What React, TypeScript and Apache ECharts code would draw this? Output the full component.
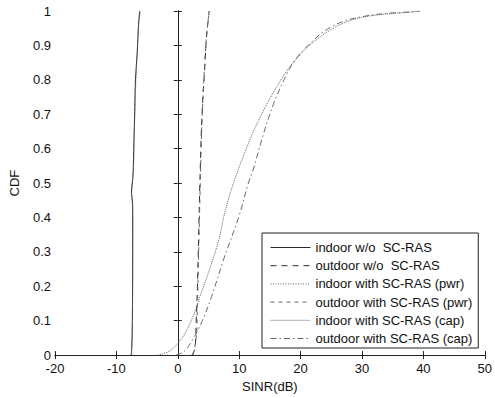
import React, { useEffect, useRef } from "react";
import * as echarts from "echarts";

const seriesNames = [
  "indoor w/o  SC-RAS",
  "outdoor w/o  SC-RAS",
  "indoor with SC-RAS (pwr)",
  "outdoor with SC-RAS (pwr)",
  "indoor with SC-RAS (cap)",
  "outdoor with SC-RAS (cap)",
];

const xTicks = [-20, -10, 0, 10, 20, 30, 40, 50];
const yTicks = [0, 0.1, 0.2, 0.3, 0.4, 0.5, 0.6, 0.7, 0.8, 0.9, 1];

// [SINR(dB), CDF]
const indoorWo: [number, number][] = [
  [-7.6, 0], [-7.5, 0.02], [-7.4, 0.1], [-7.35, 0.3], [-7.35, 0.44], [-7.55, 0.47],
  [-7.3, 0.52], [-7.15, 0.62], [-7.0, 0.72], [-6.9, 0.8], [-6.6, 0.88], [-6.4, 0.96], [-6.2, 1.0],
];
const outdoorWo: [number, number][] = [
  [2.3, 0], [2.8, 0.02], [3.0, 0.1], [3.2, 0.2], [3.4, 0.35], [3.6, 0.5],
  [3.9, 0.68], [4.4, 0.84], [4.7, 0.93], [5.0, 0.98], [5.1, 1.0],
];
const indoorPwr: [number, number][] = [
  [-7.5, 0], [-7.4, 0.1], [-7.3, 0.4], [-7.5, 0.47], [-7.2, 0.55],
  [-7.0, 0.7], [-6.7, 0.85], [-6.4, 0.95], [-6.1, 1.0],
];
const outdoorPwr: [number, number][] = [
  [2.5, 0], [3.0, 0.05], [3.2, 0.15], [3.4, 0.3], [3.6, 0.45], [3.8, 0.6],
  [4.1, 0.75], [4.5, 0.88], [4.9, 0.97], [5.2, 1.0],
];
const indoorCap: [number, number][] = [
  [-3.2, 0], [-1.5, 0.01], [-0.4, 0.026], [1.2, 0.064], [2.8, 0.127], [3.6, 0.17],
  [5.0, 0.24], [6.6, 0.33], [7.6, 0.41], [8.7, 0.48], [10.5, 0.57], [13.1, 0.68],
  [16.8, 0.8], [20.0, 0.875], [23.2, 0.925], [26.4, 0.96], [29.6, 0.98], [33.3, 0.99],
  [38.0, 0.997], [39.0, 1.0],
];
const outdoorCap: [number, number][] = [
  [-0.3, 0], [0.8, 0.008], [1.6, 0.022], [2.6, 0.05], [4.0, 0.1], [5.5, 0.17],
  [7.5, 0.28], [9.9, 0.4], [11.5, 0.5], [12.3, 0.54], [13.9, 0.64], [15.6, 0.73],
  [17.3, 0.8], [19.0, 0.855], [21.5, 0.905], [24.0, 0.943], [27.0, 0.97], [30.5, 0.985],
  [34.0, 0.993], [38.5, 0.998], [39.5, 1.0],
];

const seriesData = [indoorWo, outdoorWo, indoorPwr, outdoorPwr, indoorCap, outdoorCap];
const seriesStyles: { color: string; type: any }[] = [
  { color: "#2a2a2a", type: "solid" },
  { color: "#2a2a2a", type: [6, 5] },
  { color: "#666666", type: [1, 1.5] },
  { color: "#666666", type: [4, 4] },
  { color: "#666666", type: [1, 1] },
  { color: "#6a6a6a", type: [6, 3, 1.5, 3] },
];

export default function App() {
  const ref = useRef<HTMLDivElement>(null);
  useEffect(() => {
    if (!ref.current) return;
    const chart = echarts.init(ref.current, undefined, { renderer: "svg" });
    const font = "Liberation Sans, Arial, sans-serif";
    const axisLine = { show: true, lineStyle: { color: "#222", width: 1 } };
    chart.setOption({
      animation: false,
      backgroundColor: "#ffffff",
      textStyle: { fontFamily: font },
      grid: { left: 51, right: 8, top: 11, bottom: 41, containLabel: false },
      legend: {
        data: seriesNames,
        orient: "vertical",
        left: 262,
        top: 233,
        icon: "inherit",
        itemWidth: 40,
        itemHeight: 14,
        itemGap: 5.2,
        padding: [8, 6, 3, 8],
        borderColor: "#222",
        borderWidth: 1,
        backgroundColor: "#fff",
        itemStyle: { opacity: 0 },
        lineStyle: { width: 1 },
        textStyle: { fontSize: 13, color: "#111", fontFamily: font },
      },
      xAxis: [
        {
          type: "value",
          min: -20,
          max: 50,
          interval: 10,
          name: "SINR(dB)",
          nameLocation: "middle",
          nameGap: 23,
          nameTextStyle: { fontSize: 13, color: "#111", fontFamily: font },
          axisLine,
          axisTick: { show: true, inside: true, length: 4, lineStyle: { color: "#222" } },
          axisLabel: {
            fontSize: 13,
            color: "#111",
            margin: 7,
            fontFamily: font,
            formatter: (v: number) => (xTicks.includes(v) ? String(v) : ""),
          },
          splitLine: { show: false },
        },
        {
          type: "value",
          position: "top",
          min: -20,
          max: 50,
          interval: 10,
          axisLine,
          axisTick: { show: true, inside: true, length: 4, lineStyle: { color: "#222" } },
          axisLabel: { show: false },
          splitLine: { show: false },
        },
      ],
      yAxis: [
        {
          type: "value",
          min: 0,
          max: 1,
          interval: 0.1,
          name: "CDF",
          nameLocation: "middle",
          nameGap: 34,
          nameTextStyle: { fontSize: 13, color: "#111", fontFamily: font },
          axisLine,
          axisTick: { show: true, inside: true, length: 4, lineStyle: { color: "#222" } },
          axisLabel: {
            fontSize: 13,
            color: "#111",
            margin: 4,
            fontFamily: font,
            formatter: (v: number) => {
              const r = Math.round(v * 10) / 10;
              const hit = yTicks.find((t) => Math.abs(t - r) < 1e-9);
              return hit === undefined ? "" : String(hit);
            },
          },
          splitLine: { show: false },
        },
        {
          type: "value",
          position: "right",
          min: 0,
          max: 1,
          interval: 0.1,
          axisLine,
          axisTick: { show: true, inside: true, length: 4, lineStyle: { color: "#222" } },
          axisLabel: { show: false },
          splitLine: { show: false },
        },
      ],
      series: seriesNames.map((name, i) => ({
        name,
        type: "line",
        xAxisIndex: 0,
        yAxisIndex: 0,
        data: seriesData[i],
        symbol: "none",
        showSymbol: false,
        smooth: 0.35,
        color: seriesStyles[i].color,
        lineStyle: { color: seriesStyles[i].color, width: 1, type: seriesStyles[i].type },
        z: 3,
      })),
    });
    return () => chart.dispose();
  }, []);
  return (
    <div
      ref={ref}
      style={{ position: "fixed", left: 0, top: 0, width: 495, height: 398, background: "#fff" }}
    />
  );
}
